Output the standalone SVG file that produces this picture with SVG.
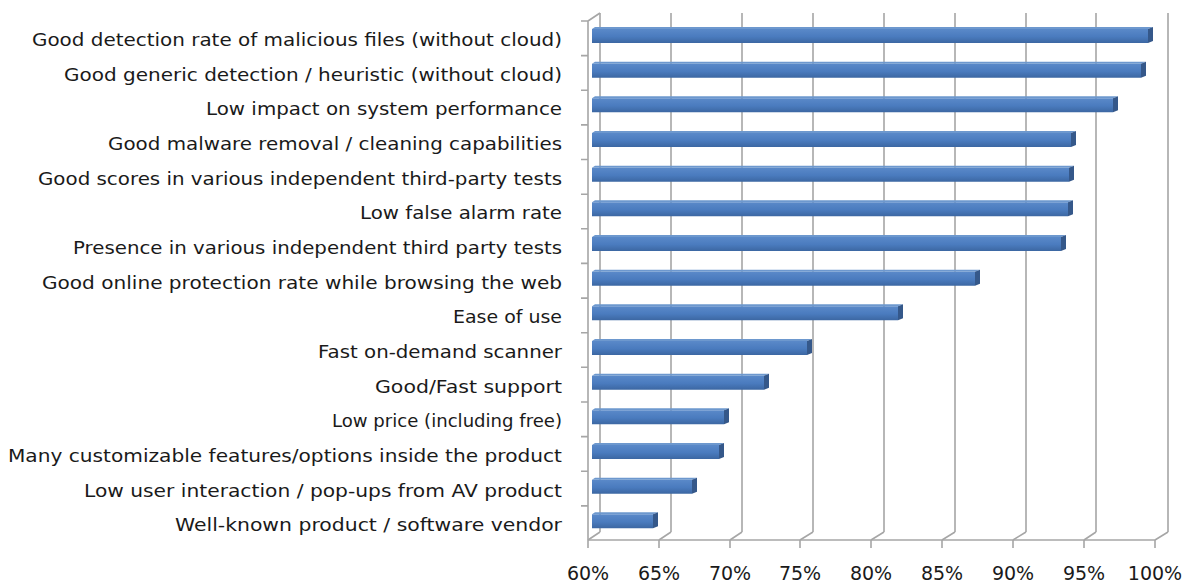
<svg xmlns="http://www.w3.org/2000/svg" width="1188" height="583" viewBox="0 0 1188 583">
<defs>
<style>
.grid{stroke:#A6A6A6;stroke-width:1.6;fill:none}
.lbl{font-family:"DejaVu Sans","Verdana",sans-serif;font-size:17.5px;fill:#1a1a1a}
.ax{font-family:"DejaVu Sans","Verdana",sans-serif;font-size:19px;fill:#1a1a1a;text-anchor:middle}
.front{fill:url(#bg)}
.top{fill:#6D98CE}
.end{fill:#35588A}
</style>
<linearGradient id="bg" x1="0" y1="0" x2="0" y2="1">
<stop offset="0" stop-color="#5A89C9"/>
<stop offset="0.55" stop-color="#4A7BBE"/>
<stop offset="1" stop-color="#3C67A2"/>
</linearGradient>
</defs>
<rect width="1188" height="583" fill="#fff"/>
<g id="axes">
<path class="grid" d="M600 13V532M671 13V532M742 13V532M813 13V532M884 13V532M955 13V532M1026 13V532M1096 13V532M1168 13V532"/>
<path class="grid" d="M588 540L600 532M659 540L671 532M730 540L742 532M800 540L813 532M871 540L884 532M942 540L955 532M1013 540L1026 532M1084 540L1096 532M1155 540L1168 532"/>
<path class="grid" d="M588 21L600 13M588 21V540H1155M588 540V548M659 540V548M730 540V548M800 540V548M871 540V548M942 540V548M1013 540V548M1084 540V548M1155 540V548"/>
<path class="grid" d="M581 21H588M581 55.6H588M581 90.3H588M581 124.9H588M581 159.5H588M581 194.2H588M581 228.8H588M581 263.4H588M581 298.1H588M581 332.7H588M581 367.3H588M581 402H588M581 436.6H588M581 471.2H588M581 505.9H588"/>
<text class="ax" x="588" y="580">60%</text>
<text class="ax" x="659" y="580">65%</text>
<text class="ax" x="730" y="580">70%</text>
<text class="ax" x="800" y="580">75%</text>
<text class="ax" x="871" y="580">80%</text>
<text class="ax" x="942" y="580">85%</text>
<text class="ax" x="1013" y="580">90%</text>
<text class="ax" x="1084" y="580">95%</text>
<text class="ax" x="1155" y="580">100%</text>
</g>
<g id="labels">
<text class="lbl" x="32" y="46" textLength="530" lengthAdjust="spacingAndGlyphs">Good detection rate of malicious files (without cloud)</text>
<text class="lbl" x="64" y="80.7" textLength="498" lengthAdjust="spacingAndGlyphs">Good generic detection / heuristic (without cloud)</text>
<text class="lbl" x="206" y="115.3" textLength="356" lengthAdjust="spacingAndGlyphs">Low impact on system performance</text>
<text class="lbl" x="108" y="150" textLength="454" lengthAdjust="spacingAndGlyphs">Good malware removal / cleaning capabilities</text>
<text class="lbl" x="38" y="184.7" textLength="524" lengthAdjust="spacingAndGlyphs">Good scores in various independent third-party tests</text>
<text class="lbl" x="360" y="219.3" textLength="202" lengthAdjust="spacingAndGlyphs">Low false alarm rate</text>
<text class="lbl" x="73" y="254" textLength="489" lengthAdjust="spacingAndGlyphs">Presence in various independent third party tests</text>
<text class="lbl" x="42" y="288.7" textLength="520" lengthAdjust="spacingAndGlyphs">Good online protection rate while browsing the web</text>
<text class="lbl" x="453" y="323.3" textLength="109" lengthAdjust="spacingAndGlyphs">Ease of use</text>
<text class="lbl" x="318" y="358" textLength="244" lengthAdjust="spacingAndGlyphs">Fast on-demand scanner</text>
<text class="lbl" x="375" y="392.7" textLength="187" lengthAdjust="spacingAndGlyphs">Good/Fast support</text>
<text class="lbl" x="332" y="427.3" textLength="230" lengthAdjust="spacingAndGlyphs">Low price (including free)</text>
<text class="lbl" x="8" y="462" textLength="554" lengthAdjust="spacingAndGlyphs">Many customizable features/options inside the product</text>
<text class="lbl" x="84" y="496.7" textLength="478" lengthAdjust="spacingAndGlyphs">Low user interaction / pop-ups from AV product</text>
<text class="lbl" x="175" y="531.3" textLength="387" lengthAdjust="spacingAndGlyphs">Well-known product / software vendor</text>
</g>
<g id="bars">
<g id="b1"><path class="front" d="M592 29H1148V43H592Z"/><path class="top" d="M592 29L595 27H1153L1148 29Z"/><path class="end" d="M1148 29L1153 27V41L1148 43Z"/></g>
<g id="b2"><path class="front" d="M592 63.7H1141V77.7H592Z"/><path class="top" d="M592 63.7L595 61.7H1146L1141 63.7Z"/><path class="end" d="M1141 63.7L1146 61.7V75.7L1141 77.7Z"/></g>
<g id="b3"><path class="front" d="M592 98.3H1113V112.3H592Z"/><path class="top" d="M592 98.3L595 96.3H1118L1113 98.3Z"/><path class="end" d="M1113 98.3L1118 96.3V110.3L1113 112.3Z"/></g>
<g id="b4"><path class="front" d="M592 133H1071V147H592Z"/><path class="top" d="M592 133L595 131H1076L1071 133Z"/><path class="end" d="M1071 133L1076 131V145L1071 147Z"/></g>
<g id="b5"><path class="front" d="M592 167.7H1069V181.7H592Z"/><path class="top" d="M592 167.7L595 165.7H1074L1069 167.7Z"/><path class="end" d="M1069 167.7L1074 165.7V179.7L1069 181.7Z"/></g>
<g id="b6"><path class="front" d="M592 202.3H1068V216.3H592Z"/><path class="top" d="M592 202.3L595 200.3H1073L1068 202.3Z"/><path class="end" d="M1068 202.3L1073 200.3V214.3L1068 216.3Z"/></g>
<g id="b7"><path class="front" d="M592 237H1061V251H592Z"/><path class="top" d="M592 237L595 235H1066L1061 237Z"/><path class="end" d="M1061 237L1066 235V249L1061 251Z"/></g>
<g id="b8"><path class="front" d="M592 271.7H975V285.7H592Z"/><path class="top" d="M592 271.7L595 269.7H980L975 271.7Z"/><path class="end" d="M975 271.7L980 269.7V283.7L975 285.7Z"/></g>
<g id="b9"><path class="front" d="M592 306.3H898V320.3H592Z"/><path class="top" d="M592 306.3L595 304.3H903L898 306.3Z"/><path class="end" d="M898 306.3L903 304.3V318.3L898 320.3Z"/></g>
<g id="b10"><path class="front" d="M592 341H807V355H592Z"/><path class="top" d="M592 341L595 339H812L807 341Z"/><path class="end" d="M807 341L812 339V353L807 355Z"/></g>
<g id="b11"><path class="front" d="M592 375.7H764V389.7H592Z"/><path class="top" d="M592 375.7L595 373.7H769L764 375.7Z"/><path class="end" d="M764 375.7L769 373.7V387.7L764 389.7Z"/></g>
<g id="b12"><path class="front" d="M592 410.3H724V424.3H592Z"/><path class="top" d="M592 410.3L595 408.3H729L724 410.3Z"/><path class="end" d="M724 410.3L729 408.3V422.3L724 424.3Z"/></g>
<g id="b13"><path class="front" d="M592 445H719V459H592Z"/><path class="top" d="M592 445L595 443H724L719 445Z"/><path class="end" d="M719 445L724 443V457L719 459Z"/></g>
<g id="b14"><path class="front" d="M592 479.7H692V493.7H592Z"/><path class="top" d="M592 479.7L595 477.7H697L692 479.7Z"/><path class="end" d="M692 479.7L697 477.7V491.7L692 493.7Z"/></g>
<g id="b15"><path class="front" d="M592 514.3H653V528.3H592Z"/><path class="top" d="M592 514.3L595 512.3H658L653 514.3Z"/><path class="end" d="M653 514.3L658 512.3V526.3L653 528.3Z"/></g>
</g>
</svg>
